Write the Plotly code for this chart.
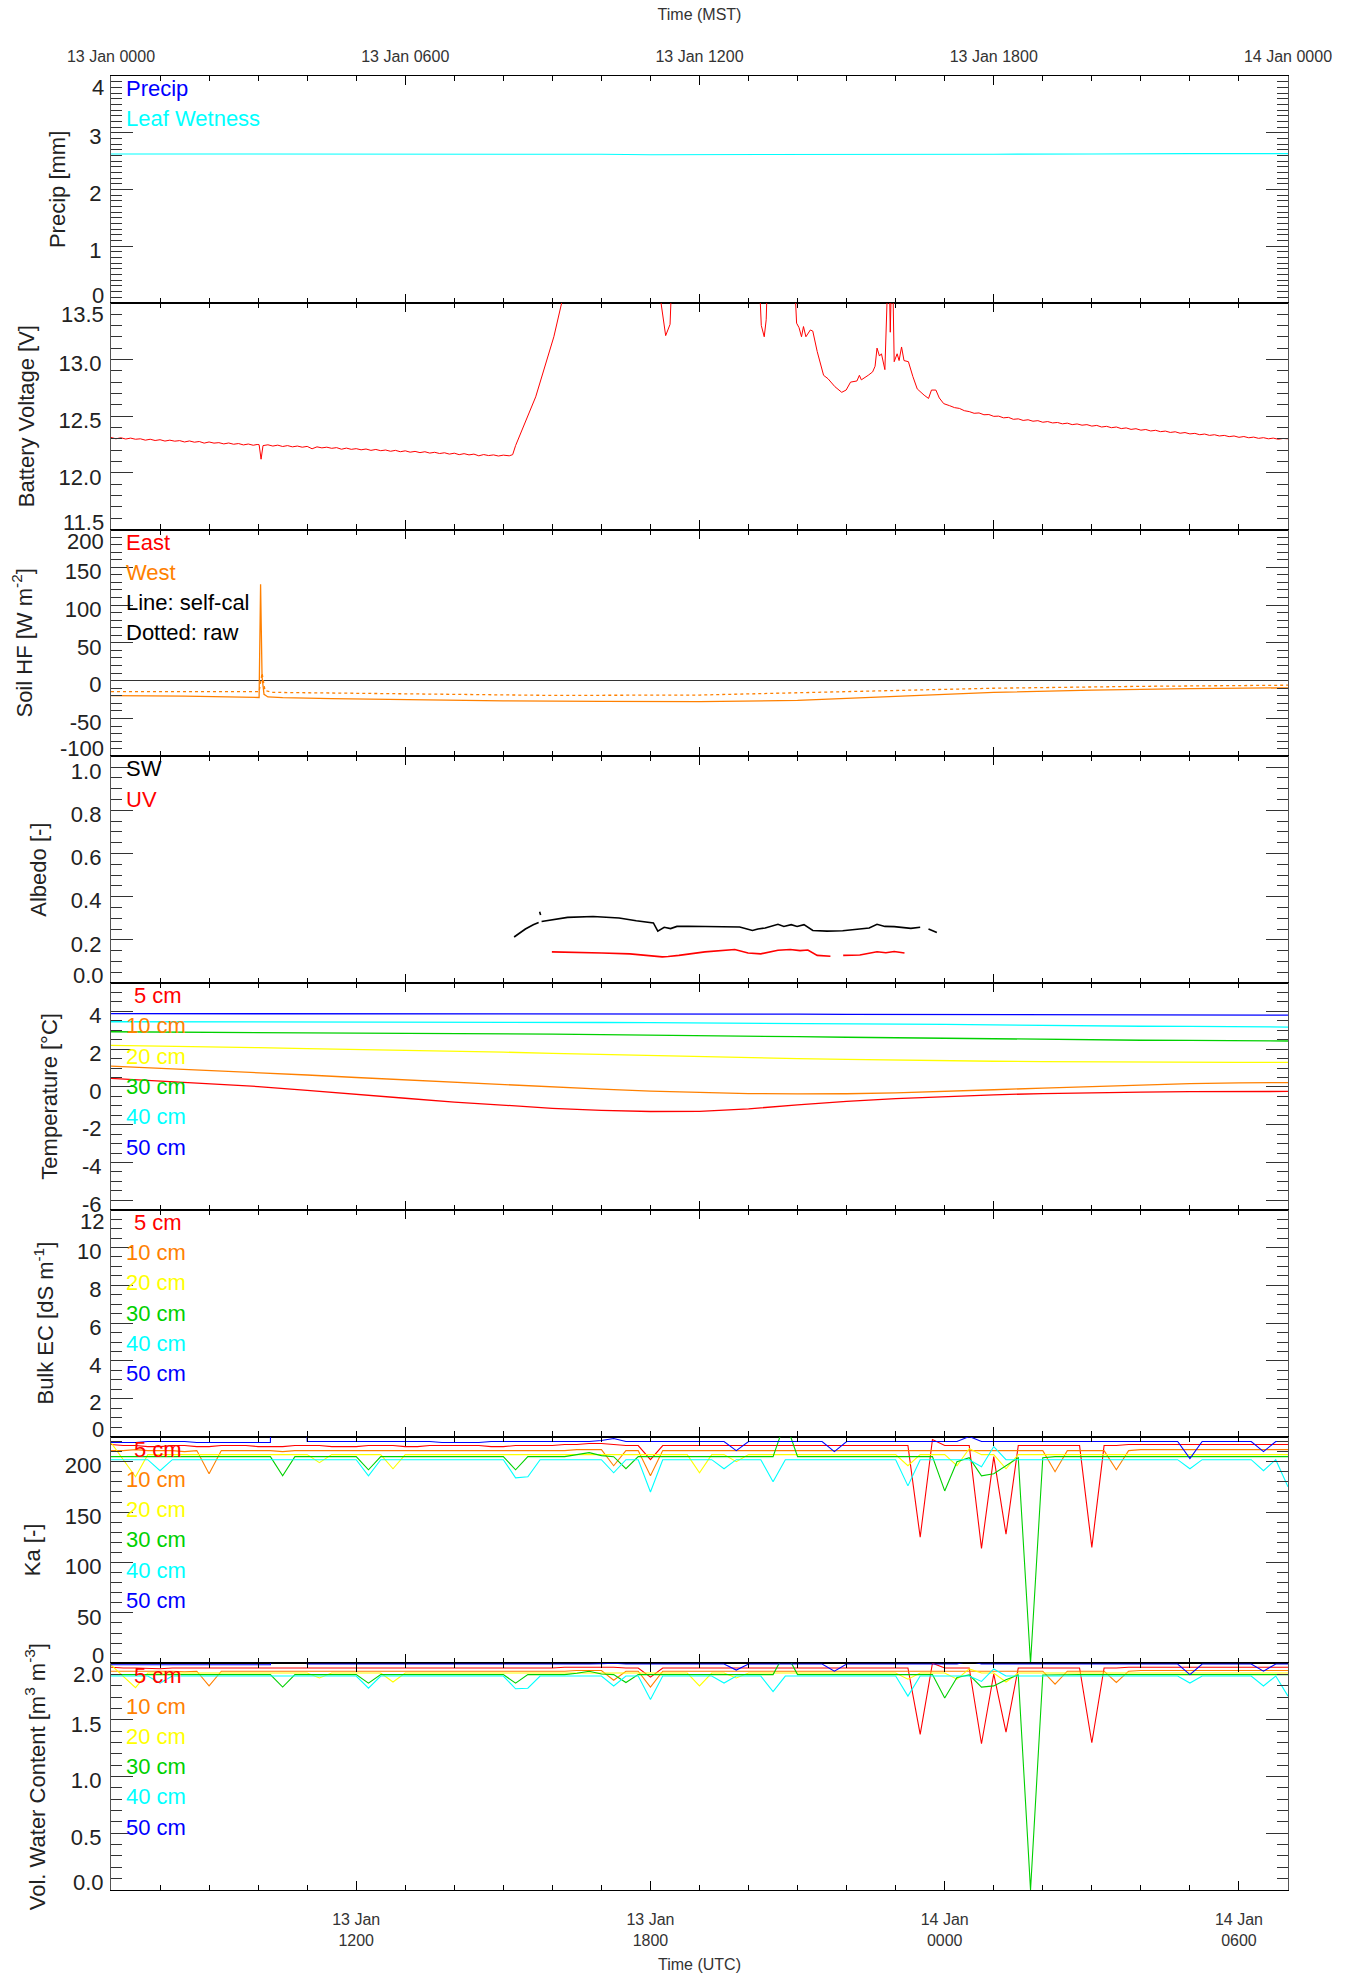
import pandas as pd
import plotly.graph_objects as go

# 13 Jan 0000 MST == 13 Jan 0700 UTC ; all times below are hours after that instant
START = pd.Timestamp("2014-01-13 07:00")

# ---------------- data ----------------
PRECIP_H = [0, 6, 12, 18, 24]
PRECIP_MM = [0, 0, 0, 0, 0]

LEAF_H = [0, 2, 4, 6, 8, 9, 10, 11, 12, 13, 14, 15, 16, 18, 20, 21.5, 22, 24]
LEAF_WET = [2.625, 2.625, 2.622, 2.622, 2.625, 2.63, 2.62, 2.612, 2.615, 2.612, 2.615, 2.612, 2.615,
            2.62, 2.625, 2.635, 2.63, 2.63]

BATT_H = [0.0, 0.1, 0.2, 0.3, 0.4, 0.5, 0.6, 0.7, 0.8, 0.9, 1.0, 1.1, 1.2, 1.3, 1.4, 1.5, 1.6, 1.7, 1.8,
          1.9, 2.0, 2.1, 2.2, 2.3, 2.4, 2.5, 2.6, 2.7, 2.8, 2.9, 2.98, 3.02, 3.06, 3.10, 3.2, 3.3, 3.4,
          3.5, 3.6, 3.7, 3.8, 3.9, 4.0, 4.1, 4.2, 4.3, 4.4, 4.5, 4.6, 4.7, 4.8, 4.9, 5.0, 5.1, 5.2, 5.3,
          5.4, 5.5, 5.6, 5.7, 5.8, 5.9, 6.0, 6.1, 6.2, 6.3, 6.4, 6.5, 6.6, 6.7, 6.8, 6.9, 7.0, 7.1, 7.2,
          7.3, 7.4, 7.5, 7.6, 7.7, 7.8, 7.9, 8.0, 8.12,
          8.19, 8.25, 8.66, 9.03, 9.19, 9.56, 10.38, 11.17, 11.215, 11.31, 11.40, 11.42, 11.46, 12.3,
          13.21, 13.24, 13.26, 13.32, 13.36, 13.37, 13.40, 13.7, 13.93, 13.96, 13.98, 14.03, 14.08,
          14.12, 14.17, 14.26, 14.31, 14.40, 14.53, 14.62, 14.76, 14.90, 14.99, 15.08, 15.21, 15.26,
          15.30, 15.44, 15.53, 15.58, 15.62, 15.67, 15.71, 15.78, 15.82, 15.86, 15.89, 15.93, 15.97,
          16.03, 16.07, 16.12, 16.17, 16.26, 16.35, 16.44, 16.58, 16.67, 16.73, 16.82, 16.89, 16.98,
          17.1, 17.2, 17.3, 17.4, 17.5, 17.6, 17.7, 17.8, 17.9, 18.0, 18.1, 18.2, 18.3, 18.4, 18.5,
          18.6, 18.7, 18.8, 18.9, 19.0, 19.1, 19.2, 19.3, 19.4, 19.5, 19.6, 19.7, 19.8, 19.9, 20.0,
          20.1, 20.2, 20.3, 20.4, 20.5, 20.6, 20.7, 20.8, 20.9, 21.0, 21.1, 21.2, 21.3, 21.4, 21.5,
          21.6, 21.7, 21.8, 21.9, 22.0, 22.1, 22.2, 22.3, 22.4, 22.5, 22.6, 22.7, 22.8, 22.9, 23.0,
          23.1, 23.2, 23.3, 23.4, 23.5, 23.6, 23.7, 23.8, 23.9, 24.0]
BATT_V = [12.312, 12.300, 12.309, 12.298, 12.306, 12.296, 12.300, 12.288, 12.296, 12.285, 12.292, 12.280,
          12.288, 12.279, 12.284, 12.272, 12.281, 12.270, 12.276, 12.262, 12.272, 12.262, 12.266, 12.255,
          12.263, 12.252, 12.258, 12.246, 12.254, 12.243, 12.250, 12.248, 12.120, 12.240, 12.247, 12.236,
          12.244, 12.232, 12.240, 12.229, 12.236, 12.226, 12.233, 12.212, 12.229, 12.220, 12.226, 12.216,
          12.222, 12.208, 12.218, 12.207, 12.213, 12.203, 12.210, 12.198, 12.206, 12.195, 12.201, 12.190,
          12.198, 12.186, 12.194, 12.182, 12.189, 12.178, 12.186, 12.174, 12.181, 12.170, 12.177, 12.165,
          12.173, 12.160, 12.169, 12.158, 12.165, 12.150, 12.161, 12.152, 12.158, 12.148, 12.156, 12.150,
          12.16, 12.24, 12.67, 13.20, 13.50, 13.90, 14.05, 14.00, 13.50, 13.21, 13.31, 13.50, 14.00, 14.05,
          14.00, 13.50, 13.30, 13.20, 13.35, 13.50, 14.00, 14.05, 14.00, 13.50, 13.32, 13.28, 13.20,
          13.29, 13.20, 13.26, 13.25, 13.07, 12.86, 12.83, 12.76, 12.71, 12.73, 12.80, 12.81, 12.86,
          12.82, 12.86, 12.89, 12.94, 13.10, 13.03, 13.05, 12.91, 14.00, 14.00, 13.24, 14.00, 12.98,
          13.05, 12.99, 13.11, 12.99, 12.98, 12.85, 12.74, 12.685, 12.656, 12.73, 12.73, 12.66, 12.61,
          12.592, 12.575, 12.568, 12.548, 12.540, 12.525, 12.528, 12.512, 12.514, 12.498, 12.500, 12.485,
          12.489, 12.472, 12.476, 12.462, 12.468, 12.455, 12.460, 12.446, 12.452, 12.440, 12.444, 12.432,
          12.438, 12.425, 12.431, 12.420, 12.425, 12.412, 12.418, 12.404, 12.410, 12.398, 12.404, 12.390,
          12.396, 12.383, 12.389, 12.376, 12.382, 12.369, 12.375, 12.363, 12.368, 12.356, 12.362, 12.349,
          12.355, 12.343, 12.348, 12.336, 12.342, 12.330, 12.336, 12.325, 12.330, 12.319, 12.325, 12.313,
          12.320, 12.309, 12.315, 12.304, 12.310, 12.300, 12.306, 12.296, 12.303, 12.300]

WEST_SC_H = [0, 1.5, 3.02, 3.05, 3.08, 3.12, 3.2, 3.5, 4.5, 6, 8, 10, 12, 14, 16, 18, 20, 22, 24]
WEST_SC = [-19.7, -20.5, -22.3, 127.6, 5, -18, -21.5, -22.5, -23.8, -25.4, -26.7, -27.5, -27.8, -26,
           -21, -15.5, -12.5, -10.5, -9.5]
WEST_RAW_H = [0, 3.02, 3.08, 3.14, 3.3, 6, 9, 12, 15, 18, 21, 24]
WEST_RAW = [-14.4, -14.5, 10, -13, -15.5, -17.5, -19.5, -19, -15, -10, -7.5, -6]

SW_H = [8.22, 8.45, 8.61, 8.72, None, 8.74, 8.76, None, 8.78, 9.31, 9.83, 10.36, 10.71, 11.06, 11.15,
        11.28, 11.41, 11.54, 11.77, 12.01, 12.29, 12.54, 12.82, 13.08, 13.19, 13.34, 13.60, 13.72, 13.87,
        13.99, 14.13, 14.31, 14.60, 14.92, 15.27, 15.46, 15.62, 15.78, 15.97, 16.15, 16.31, 16.50, None,
        16.67, 16.84]
SW_ALB = [0.213, 0.25, 0.27, 0.28, None, 0.33, 0.315, None, 0.285, 0.304, 0.308, 0.301, 0.288, 0.278, 0.24,
          0.258, 0.252, 0.262, 0.263, 0.262, 0.263, 0.261, 0.259, 0.243, 0.25, 0.255, 0.272, 0.262, 0.27,
          0.262, 0.27, 0.243, 0.24, 0.242, 0.25, 0.255, 0.272, 0.262, 0.261, 0.256, 0.253, 0.258, None,
          0.25, 0.234]
UV_H = [8.99, 9.46, 10.01, 10.58, 11.24, 11.36, 11.58, 12.11, 12.47, 12.72, 12.99, 13.25, 13.60, 13.85,
        14.05, 14.21, 14.40, 14.67, None, 14.93, 15.27, 15.62, 15.80, 15.97, 16.18]
UV_ALB = [0.144, 0.143, 0.139, 0.135, 0.121, 0.123, 0.128, 0.144, 0.152, 0.155, 0.139, 0.135, 0.152, 0.155,
          0.15, 0.153, 0.128, 0.124, None, 0.128, 0.13, 0.145, 0.14, 0.146, 0.139]

TEMP_H = [0, 1, 2, 3, 4, 5, 6, 7, 8, 9, 10, 11, 12, 13, 14, 15, 16, 17, 18, 19, 20, 21, 22, 23, 24]
TEMP_5 = [0.45, 0.32, 0.18, 0.02, -0.18, -0.40, -0.60, -0.80, -0.98, -1.13, -1.24, -1.30, -1.29, -1.16,
          -0.95, -0.76, -0.62, -0.51, -0.42, -0.35, -0.30, -0.27, -0.25, -0.24, -0.24]
TEMP_10 = [1.10, 0.99, 0.88, 0.76, 0.63, 0.50, 0.37, 0.24, 0.11, -0.01, -0.12, -0.22, -0.30, -0.35,
           -0.37, -0.36, -0.31, -0.24, -0.15, -0.06, 0.03, 0.11, 0.17, 0.21, 0.23]
TEMP_20 = [2.20, 2.17, 2.13, 2.08, 2.03, 1.99, 1.94, 1.89, 1.84, 1.78, 1.72, 1.66, 1.60, 1.55, 1.50,
           1.46, 1.42, 1.39, 1.36, 1.34, 1.32, 1.31, 1.30, 1.30, 1.30]
TEMP_30 = [2.92, 2.91, 2.90, 2.89, 2.87, 2.86, 2.84, 2.83, 2.81, 2.79, 2.77, 2.75, 2.72, 2.69, 2.66,
           2.63, 2.60, 2.57, 2.54, 2.51, 2.49, 2.47, 2.46, 2.44, 2.43]
TEMP_40 = [3.45, 3.45, 3.45, 3.45, 3.44, 3.44, 3.43, 3.43, 3.42, 3.42, 3.41, 3.40, 3.39, 3.38, 3.36,
           3.35, 3.33, 3.31, 3.28, 3.25, 3.23, 3.21, 3.20, 3.18, 3.17]
TEMP_50 = [3.88, 3.88, 3.88, 3.88, 3.88, 3.87, 3.87, 3.87, 3.87, 3.86, 3.86, 3.86, 3.86, 3.85, 3.85,
           3.84, 3.84, 3.83, 3.83, 3.82, 3.82, 3.81, 3.81, 3.80, 3.80]

# 15-minute soil sensor records (97 samples, 13 Jan 0700 UTC .. 14 Jan 0700 UTC)
KA_5CM = [217, 216, 216, 215, 215, 216, 216, 215, 215, 216,
          216, 216, 215, 215, 215, 216, 216, 216, 215, 215,
          215, 216, 216, 216, 215, 215, 216, 216, 216, 216,
          216, 215, 215, 216, 216, 216, 216, 217, 217, 218,
          218, 217, 216, 216, 202, 216, 216, 216, 216, 216,
          216, 216, 216, 216, 216, 216, 216, 216, 216, 216,
          216, 216, 216, 216, 216, 216, 125, 222, 216, 216,
          216, 114, 205, 128, 216, 216, 216, 216, 216, 216,
          115, 216, 216, 217, 217, 217, 217, 217, 217, 217,
          217, 217, 217, 217, 217, 217, 217]
KA_10CM = [211, 211, 212, 211, 211, 211, 210, 211, 188, 211,
           211, 211, 211, 211, 210, 211, 211, 211, 211, 211,
           211, 211, 211, 211, 211, 211, 211, 211, 211, 211,
           211, 211, 211, 211, 211, 211, 211, 211, 212, 212,
           212, 196, 211, 211, 186, 211, 211, 211, 211, 211,
           211, 211, 211, 211, 211, 211, 211, 211, 211, 211,
           211, 211, 211, 211, 211, 211, 211, 211, 211, 211,
           211, 211, 211, 211, 211, 211, 211, 190, 211, 211,
           211, 211, 192, 211, 212, 212, 212, 212, 212, 212,
           212, 212, 212, 212, 212, 212, 212]
KA_20CM = [219, 202, 185, 207, 207, 207, 207, 207, 207, 207,
           207, 207, 207, 207, 207, 207, 207, 199, 207, 207,
           207, 207, 207, 193, 207, 207, 207, 207, 207, 207,
           207, 207, 207, 207, 207, 207, 207, 207, 207, 207,
           207, 207, 207, 207, 207, 207, 207, 207, 189, 207,
           207, 200, 207, 207, 207, 207, 207, 207, 207, 207,
           207, 207, 207, 207, 207, 196, 207, 207, 207, 196,
           213, 207, 207, 193, 207, 207, 207, 207, 207, 207,
           207, 207, 207, 207, 207, 207, 207, 207, 207, 207,
           207, 207, 207, 207, 207, 207, 207]
KA_30CM = [205, 205, 205, 205, 205, 205, 205, 205, 205, 205,
           205, 205, 205, 205, 186, 205, 205, 205, 205, 205,
           205, 192, 205, 205, 205, 205, 205, 205, 205, 205,
           205, 205, 205, 192, 205, 205, 205, 205, 207, 209,
           206, 205, 193, 205, 205, 205, 205, 205, 205, 205,
           205, 205, 205, 205, 205, 240, 205, 205, 205, 205,
           205, 205, 205, 205, 205, 205, 205, 205, 171, 200,
           204, 186, 188, 196, 204, 0, 204, 205, 205, 205,
           205, 205, 205, 205, 205, 205, 205, 205, 205, 205,
           205, 205, 205, 205, 205, 205, 205]
KA_40CM = [202, 202, 202, 202, 191, 202, 202, 202, 202, 202,
           202, 202, 202, 202, 202, 202, 202, 202, 202, 202,
           202, 186, 202, 202, 202, 202, 202, 202, 202, 202,
           202, 202, 202, 184, 185, 202, 202, 202, 202, 202,
           202, 189, 202, 202, 170, 202, 202, 202, 202, 202,
           193, 202, 202, 202, 180, 202, 202, 202, 202, 202,
           202, 202, 202, 202, 202, 176, 202, 202, 202, 202,
           202, 195, 215, 202, 202, 202, 202, 202, 202, 202,
           202, 202, 202, 202, 202, 202, 202, 202, 193, 202,
           202, 202, 202, 202, 191, 202, 175]
KA_50CM = [219, 219, 219, 220, 220, 220, 220, 219, 219, 219,
           219, 219, 219, 219, 900, 900, 220, 220, 220, 220,
           220, 220, 220, 220, 220, 220, 220, 219, 219, 219,
           219, 220, 220, 220, 220, 220, 220, 220, 220, 220,
           221, 223, 220, 220, 220, 220, 220, 220, 220, 220,
           220, 211, 220, 220, 220, 220, 220, 220, 220, 210,
           220, 220, 220, 220, 220, 220, 220, 220, 220, 220,
           225, 220, 220, 220, 220, 220, 220, 220, 220, 220,
           220, 220, 220, 220, 220, 220, 220, 220, 203, 220,
           220, 220, 220, 220, 210, 220, 220]

VWC_5CM = [1.965, 1.958, 1.958, 1.952, 1.952, 1.958, 1.958, 1.952, 1.952, 1.958,
           1.958, 1.958, 1.952, 1.952, 1.952, 1.958, 1.958, 1.958, 1.952, 1.952,
           1.952, 1.958, 1.958, 1.958, 1.952, 1.952, 1.958, 1.958, 1.958, 1.958,
           1.958, 1.952, 1.952, 1.958, 1.958, 1.958, 1.958, 1.965, 1.965, 1.970,
           1.970, 1.965, 1.958, 1.958, 1.878, 1.958, 1.958, 1.958, 1.958, 1.958,
           1.958, 1.958, 1.958, 1.958, 1.958, 1.958, 1.958, 1.958, 1.958, 1.958,
           1.958, 1.958, 1.958, 1.958, 1.958, 1.958, 1.372, 2.000, 1.958, 1.958,
           1.958, 1.290, 1.905, 1.393, 1.958, 1.958, 1.958, 1.958, 1.958, 1.958,
           1.299, 1.958, 1.958, 1.965, 1.965, 1.965, 1.965, 1.965, 1.965, 1.965,
           1.965, 1.965, 1.965, 1.965, 1.965, 1.965, 1.965]
VWC_10CM = [1.930, 1.930, 1.936, 1.930, 1.930, 1.930, 1.925, 1.930, 1.800, 1.930,
            1.930, 1.930, 1.930, 1.930, 1.925, 1.930, 1.930, 1.930, 1.930, 1.930,
            1.930, 1.930, 1.930, 1.930, 1.930, 1.930, 1.930, 1.930, 1.930, 1.930,
            1.930, 1.930, 1.930, 1.930, 1.930, 1.930, 1.930, 1.930, 1.936, 1.936,
            1.936, 1.850, 1.930, 1.930, 1.790, 1.930, 1.930, 1.930, 1.930, 1.930,
            1.930, 1.930, 1.930, 1.930, 1.930, 1.930, 1.930, 1.930, 1.930, 1.930,
            1.930, 1.930, 1.930, 1.930, 1.930, 1.930, 1.930, 1.930, 1.930, 1.930,
            1.930, 1.930, 1.930, 1.930, 1.930, 1.930, 1.930, 1.815, 1.930, 1.930,
            1.930, 1.930, 1.830, 1.930, 1.936, 1.936, 1.936, 1.936, 1.936, 1.936,
            1.936, 1.936, 1.936, 1.936, 1.936, 1.936, 1.936]
VWC_20CM = [1.985, 1.887, 1.785, 1.914, 1.914, 1.914, 1.914, 1.914, 1.914, 1.914,
            1.914, 1.914, 1.914, 1.914, 1.914, 1.914, 1.914, 1.870, 1.914, 1.914,
            1.914, 1.914, 1.914, 1.835, 1.914, 1.914, 1.914, 1.914, 1.914, 1.914,
            1.914, 1.914, 1.914, 1.914, 1.914, 1.914, 1.914, 1.914, 1.914, 1.914,
            1.914, 1.914, 1.914, 1.914, 1.914, 1.914, 1.914, 1.914, 1.800, 1.914,
            1.914, 1.870, 1.914, 1.914, 1.914, 1.914, 1.914, 1.914, 1.914, 1.914,
            1.914, 1.914, 1.914, 1.914, 1.914, 1.860, 1.914, 1.914, 1.914, 1.860,
            1.950, 1.914, 1.914, 1.835, 1.914, 1.914, 1.914, 1.914, 1.914, 1.914,
            1.914, 1.914, 1.914, 1.914, 1.914, 1.914, 1.914, 1.914, 1.914, 1.914,
            1.914, 1.914, 1.914, 1.914, 1.914, 1.914, 1.914]
VWC_30CM = [1.900, 1.900, 1.900, 1.900, 1.900, 1.900, 1.900, 1.900, 1.900, 1.900,
            1.900, 1.900, 1.900, 1.900, 1.790, 1.900, 1.900, 1.900, 1.900, 1.900,
            1.900, 1.825, 1.900, 1.900, 1.900, 1.900, 1.900, 1.900, 1.900, 1.900,
            1.900, 1.900, 1.900, 1.825, 1.900, 1.900, 1.900, 1.900, 1.912, 1.930,
            1.905, 1.900, 1.830, 1.900, 1.900, 1.900, 1.900, 1.900, 1.900, 1.900,
            1.900, 1.900, 1.900, 1.900, 1.900, 2.100, 1.900, 1.900, 1.900, 1.900,
            1.900, 1.900, 1.900, 1.900, 1.900, 1.900, 1.900, 1.900, 1.693, 1.875,
            1.897, 1.790, 1.800, 1.855, 1.897, 0.000, 1.897, 1.900, 1.900, 1.900,
            1.900, 1.900, 1.900, 1.900, 1.900, 1.900, 1.900, 1.900, 1.900, 1.900,
            1.900, 1.900, 1.900, 1.900, 1.900, 1.900, 1.900]
VWC_40CM = [1.887, 1.887, 1.887, 1.887, 1.825, 1.887, 1.887, 1.887, 1.887, 1.887,
            1.887, 1.887, 1.887, 1.887, 1.887, 1.887, 1.887, 1.887, 1.887, 1.887,
            1.887, 1.780, 1.887, 1.887, 1.887, 1.887, 1.887, 1.887, 1.887, 1.887,
            1.887, 1.887, 1.887, 1.775, 1.780, 1.887, 1.887, 1.887, 1.887, 1.887,
            1.887, 1.800, 1.887, 1.887, 1.680, 1.887, 1.887, 1.887, 1.887, 1.887,
            1.825, 1.887, 1.887, 1.887, 1.750, 1.887, 1.887, 1.887, 1.887, 1.887,
            1.887, 1.887, 1.887, 1.887, 1.887, 1.710, 1.887, 1.887, 1.887, 1.887,
            1.887, 1.840, 1.950, 1.887, 1.887, 1.887, 1.887, 1.887, 1.887, 1.887,
            1.887, 1.887, 1.887, 1.887, 1.887, 1.887, 1.887, 1.887, 1.825, 1.887,
            1.887, 1.887, 1.887, 1.887, 1.800, 1.887, 1.710]
VWC_50CM = [1.987, 1.987, 1.987, 1.993, 1.993, 1.993, 1.993, 1.987, 1.987, 1.987,
            1.987, 1.987, 1.987, 1.987, 5.000, 5.000, 1.993, 1.993, 1.993, 1.993,
            1.993, 1.993, 1.993, 1.993, 1.993, 1.993, 1.993, 1.987, 1.987, 1.987,
            1.987, 1.993, 1.993, 1.993, 1.993, 1.993, 1.993, 1.993, 1.993, 1.993,
            1.997, 2.000, 1.993, 1.993, 1.993, 1.993, 1.993, 1.993, 1.993, 1.993,
            1.993, 1.940, 1.993, 1.993, 1.993, 1.993, 1.993, 1.993, 1.993, 1.930,
            1.993, 1.993, 1.993, 1.993, 1.993, 1.993, 1.993, 1.993, 1.993, 1.993,
            2.020, 1.993, 1.993, 1.993, 1.993, 1.993, 1.993, 1.993, 1.993, 1.993,
            1.993, 1.993, 1.993, 1.993, 1.993, 1.993, 1.993, 1.993, 1.900, 1.993,
            1.993, 1.993, 1.993, 1.993, 1.930, 1.993, 1.993]

DEPTHS = ["5 cm", "10 cm", "20 cm", "30 cm", "40 cm", "50 cm"]

MST_TICK_H = [0, 6, 12, 18, 24]
MST_TICK_TEXT = ["13 Jan 0000", "13 Jan 0600", "13 Jan 1200", "13 Jan 1800", "14 Jan 0000"]
UTC_TICK_H = [5, 11, 17, 23]
UTC_TICK_TEXT = ["13 Jan<br>1200", "13 Jan<br>1800", "14 Jan<br>0000", "14 Jan<br>0600"]

# ---------------- styling ----------------
FONT = "Liberation Sans, Arial, sans-serif"
TXT = "#222222"
RED, ORANGE, YELLOW, GREEN, CYAN, BLUE = "#ff0000", "#ff8000", "#ffff00", "#00d000", "#00ffff", "#0000ff"
DEPTH_COLORS = [RED, ORANGE, YELLOW, GREEN, CYAN, BLUE]

W, H = 1348, 1977
ML, MR, MT, MB = 111, 60, 76, 87
NP = 8


def hrs(hours):
    return [None if h is None else START + pd.Timedelta(hours=h) for h in hours]


KA_T = pd.date_range(START, periods=97, freq="15min")

fig = go.Figure()


def add(k, x, y, color, dash=None, width=1.1):
    fig.add_trace(go.Scatter(
        x=x, y=y, mode="lines", xaxis="x" if k == 0 else f"x{k + 1}",
        yaxis="y" if k == 0 else f"y{k + 1}",
        line=dict(color=color, width=width, dash=dash), connectgaps=False,
        showlegend=False, hoverinfo="skip"))


# panel 1: precip / leaf wetness
add(0, hrs(LEAF_H), LEAF_WET, CYAN)
add(0, hrs(PRECIP_H), PRECIP_MM, BLUE, width=1.5)
# panel 2: battery
add(1, hrs(BATT_H), BATT_V, RED, width=1.0)
# panel 3: soil heat flux
add(2, hrs(WEST_RAW_H), WEST_RAW, ORANGE, dash="dot", width=1.3)
add(2, hrs(WEST_SC_H), WEST_SC, ORANGE, width=1.3)
# panel 4: albedo
add(3, hrs(SW_H), SW_ALB, "black", width=1.6)
add(3, hrs(UV_H), UV_ALB, RED, width=1.6)
# panel 5: soil temperature
for ser, c in zip([TEMP_5, TEMP_10, TEMP_20, TEMP_30, TEMP_40, TEMP_50], DEPTH_COLORS):
    add(4, hrs(TEMP_H), ser, c, width=1.3)
# panel 6: bulk EC (no valid data in this period)
# panel 7: Ka
for ser, c in zip([KA_5CM, KA_10CM, KA_20CM, KA_30CM, KA_40CM, KA_50CM], DEPTH_COLORS):
    add(6, KA_T, ser, c)
# panel 8: VWC
for ser, c in zip([VWC_5CM, VWC_10CM, VWC_20CM, VWC_30CM, VWC_40CM, VWC_50CM], DEPTH_COLORS):
    add(7, KA_T, ser, c)

# ---------------- axes ----------------
YAX = [
    dict(title="Precip [mm]", rng=[0, 4], major=[0, 1, 2, 3, 4], fmt="{:.0f}", minor=0.1, ends=(True, True), so=17),
    dict(title="Battery Voltage [V]", rng=[11.5, 13.5], major=[11.5, 12.0, 12.5, 13.0, 13.5], fmt="{:.1f}",
         minor=0.1, ends=(True, True), so=17),
    dict(title="Soil HF [W m<sup>-2</sup>]", rng=[-100, 200], major=[-100, -50, 0, 50, 100, 150, 200],
         fmt="{:.0f}", minor=10, ends=(True, True), so=26),
    dict(title="Albedo [-]", rng=[0, 1.05], major=[0, 0.2, 0.4, 0.6, 0.8, 1.0], fmt="{:.1f}", minor=0.05,
         ends=(True, False), so=18),
    dict(title="Temperature [°C]", rng=[-6.5, 5.5], major=[-6, -4, -2, 0, 2, 4], fmt="{:.0f}", minor=0.5,
         ends=(False, False), so=18),
    dict(title="Bulk EC [dS m<sup>-1</sup>]", rng=[0, 12], major=[0, 2, 4, 6, 8, 10, 12], fmt="{:.0f}",
         minor=0.5, ends=(True, True), so=17),
    dict(title="Ka [-]", rng=[0, 225], major=[0, 50, 100, 150, 200], fmt="{:.0f}", minor=10,
         ends=(True, False), so=18),
    dict(title="Vol. Water Content [m<sup>3</sup> m<sup>-3</sup>]", rng=[0, 2.0], major=[0, 0.5, 1.0, 1.5, 2.0],
         fmt="{:.1f}", minor=0.1, ends=(True, True), so=19),
]

annotations = []
layout = dict(width=W, height=H, margin=dict(l=ML, r=MR, t=MT, b=MB, pad=0, autoexpand=False),
              paper_bgcolor="white", plot_bgcolor="white",
              font=dict(family=FONT, color=TXT, size=22), showlegend=False)

x_range = [START, START + pd.Timedelta(hours=24)]
for k, cfg in enumerate(YAX):
    top = 1 - k / NP
    bot = 1 - (k + 1) / NP
    yname = "yaxis" if k == 0 else f"yaxis{k + 1}"
    xname = "xaxis" if k == 0 else f"xaxis{k + 1}"
    yref = "y" if k == 0 else f"y{k + 1}"
    xref = "x" if k == 0 else f"x{k + 1}"
    lo, hi = cfg["rng"]
    vals, texts = [], []
    for v in cfg["major"]:
        at_lo = abs(v - lo) < 1e-9 and cfg["ends"][0]
        at_hi = abs(v - hi) < 1e-9 and cfg["ends"][1]
        if at_lo or at_hi:
            # labels at the panel edges are nudged inside the panel
            annotations.append(dict(
                xref="paper", yref=yref, x=0, y=v, xanchor="right", yanchor="middle",
                xshift=-5, yshift=(-11.5 if at_hi else 7.5),
                text=cfg["fmt"].format(v), showarrow=False, font=dict(size=22, color=TXT, family=FONT)))
        else:
            vals.append(v)
            texts.append(cfg["fmt"].format(v))
    layout[yname] = dict(
        domain=[bot, top], anchor=xref, range=cfg["rng"], autorange=False, automargin=False,
        tickmode="array", tickvals=vals, ticktext=texts,
        ticks="inside", ticklen=22, tickwidth=1.3, tickcolor="#333333",
        minor=dict(ticks="inside", ticklen=11, tickwidth=1.3, tickcolor="#333333", dtick=cfg["minor"], tick0=0),
        showline=True, linecolor="#555555", linewidth=1.3, mirror="ticks",
        showgrid=False, zeroline=(k == 2), zerolinecolor="#333333", zerolinewidth=1,
        tickfont=dict(size=22, color=TXT, family=FONT), ticklabelstandoff=4, ticklabelshift=4,
        title=dict(text=cfg["title"], font=dict(size=22, color=TXT, family=FONT), standoff=cfg["so"]),
    )
    xa = dict(
        domain=[0, 1], anchor=yref, type="date", range=x_range, autorange=False, automargin=False,
        ticks="inside", ticklen=9, tickwidth=1.3, tickcolor="black",
        minor=dict(ticks="inside", ticklen=5, tickwidth=1.2, tickcolor="black", dtick=3600000,
                   tick0=START),
        showline=True, linecolor="black", linewidth=1.3, mirror="ticks", showgrid=False, zeroline=False,
        tickmode="array", tickvals=hrs(MST_TICK_H), showticklabels=False,
    )
    if k > 0:
        xa["matches"] = "x"
    if k == 0:
        xa.update(side="top", ticktext=MST_TICK_TEXT, showticklabels=True,
                  tickfont=dict(size=16, color="#333333", family=FONT), ticklabelstandoff=6,
                  title=dict(text="Time (MST)", font=dict(size=16, color="#333333", family=FONT), standoff=23))
    if k == NP - 1:
        xa.update(side="bottom", tickvals=hrs(UTC_TICK_H), ticktext=UTC_TICK_TEXT, showticklabels=True,
                  tickfont=dict(size=16, color="#333333", family=FONT), ticklabelstandoff=15,
                  title=dict(text="Time (UTC)", font=dict(size=16, color="#333333", family=FONT), standoff=10))
    layout[xname] = xa

# panel legends (coloured text at upper left)
LEGENDS = [
    (0, ["Precip", "Leaf Wetness"], [BLUE, CYAN]),
    (2, ["East", "West", "Line: self-cal", "Dotted: raw"], [RED, ORANGE, "black", "black"]),
    (3, ["SW", "UV"], ["black", RED]),
    (4, DEPTHS, DEPTH_COLORS),
    (5, DEPTHS, DEPTH_COLORS),
    (6, DEPTHS, DEPTH_COLORS),
    (7, DEPTHS, DEPTH_COLORS),
]
for k, labels, colors in LEGENDS:
    top = 1 - k / NP
    for j, (lab, col) in enumerate(zip(labels, colors)):
        annotations.append(dict(
            xref="paper", yref="paper", x=0, y=top, xanchor="left", yanchor="middle",
            xshift=(21 if lab == "5 cm" else 13), yshift=-(12.5 + 30.3 * j),
            text=lab, showarrow=False, font=dict(size=22, color=col, family=FONT)))

layout["annotations"] = annotations
fig.update_layout(**layout)
fig.write_html("out.html", config={"displayModeBar": False},
               post_script="document.body.style.margin='0px';")
